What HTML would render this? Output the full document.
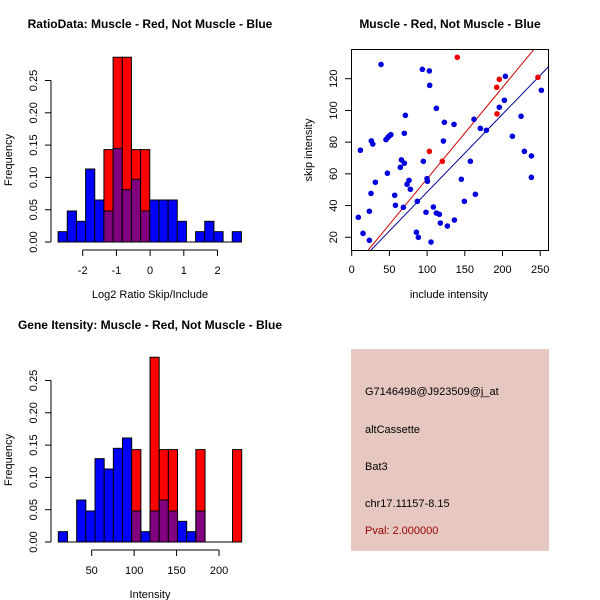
<!DOCTYPE html>
<html><head><meta charset="utf-8"><style>
body{margin:0;background:#fff;}
svg{display:block;font-family:"Liberation Sans",sans-serif;}
</style></head><body>
<svg id="c" width="600" height="600" viewBox="0 0 600 600"></svg>
<script>
// Ratio histogram data
const ratioBinStart = -2.73;
const ratioBinWidth = 0.272;
const ratioBlue = [0.016,0.048,0.032,0.113,0.065,0.048,0.145,0.081,0.097,0.048,0.065,0.065,0.065,0.032,0,0.016,0.032,0.016,0,0.016];
const ratioRed  = [0,0,0,0,0,0.143,0.286,0.286,0.143,0.143,0,0,0,0,0,0,0,0,0,0];
const ratioXTicks = [-2,-1,0,1,2];
const freqTicks = [0,0.05,0.10,0.15,0.20,0.25];
const freqTickLabels = ["0.00","0.05","0.10","0.15","0.20","0.25"];
// Intensity histogram data
const intBinStart = 10.7;
const intBinWidth = 10.8;
const intBlue = [0.016,0,0.065,0.048,0.129,0.113,0.145,0.161,0.048,0.016,0.048,0.065,0.048,0.032,0.016,0.048,0,0,0,0];
const intRed  = [0,0,0,0,0,0,0,0,0.143,0,0.286,0.143,0.143,0,0,0.143,0,0,0,0.143];
const intXTicks = [50,100,150,200];
// Scatter data
const blueX = [8.8,11.5,15,23.4,23.4,26,28,25.6,31.4,38.9,45.5,47.3,48,50,52,57,58,64.5,65.9,68.5,69.8,69.8,71.2,73.4,76,77.8,85.8,87.1,88.4,93.7,95,98.6,99.9,100.4,103,103.4,105.2,108.3,112.3,112.3,116.3,117.6,121.6,122.9,126.9,135.7,136.2,145.4,149.4,157.4,162.2,164,170.6,178.6,195.8,202.5,203.8,213.1,224.6,229,238.3,238.3,251.5];
const blueY = [32.6,74.9,22.5,36.4,18.1,80.8,78.8,47.7,54.7,129,81.6,60.4,83,84,84.7,46.5,40.2,64.1,68.8,38.9,85.6,66.7,96.9,53.4,55.9,50.3,23.2,42.7,20,125.9,67.9,35.8,57,55.3,124.9,115.8,17,39.1,101.3,35.3,34.5,29,80.7,92.5,27.1,91.2,30.9,56.6,42.7,67.9,94.4,47.1,88.7,87.5,102,106.4,121.5,83.7,96.3,74.2,71.3,57.8,112.7];
const redX = [140,103,120.2,192.3,195.8,192.7,247];
const redY = [133.5,74.2,67.9,114.6,119.6,97.8,120.9];
const redLine = [0.576,-0.7];   // slope, intercept
const blueLine = [0.491,-0.6];
const scatXTicks = [0,50,100,150,200,250];
const scatYTicks = [20,40,60,80,100,120];

const svg = document.getElementById('c');
const NS = 'http://www.w3.org/2000/svg';
function mk(tag, attrs, parent, text){
  const e = document.createElementNS(NS, tag);
  for (const k in attrs) e.setAttribute(k, attrs[k]);
  if (text !== undefined) e.textContent = text;
  (parent||svg).appendChild(e);
  return e;
}
function txt(x,y,s,size,opts,parent){
  const a = Object.assign({x:x,y:y,'font-size':size,'text-anchor':'middle',fill:'#000'}, opts||{});
  return mk('text',a,parent,s);
}

function hist(name, title, titleY, xlab, xlabY, top, binStart, binW, blue, red, xTicks, xScale){
  const g = mk('g',{});
  
  
  const y0 = top + 202, perUnit = 32.3/0.05;
  const Y = v => y0 - v*perUnit;
  const t = txt(150,titleY,title,12,{'font-weight':'bold'},g);
  
  
  // bars
  for (let i=0;i<blue.length;i++){
    const x0 = xScale(binStart + i*binW), x1 = xScale(binStart+(i+1)*binW);
    if (red[i]>0){
      const r = mk('rect',{x:x0,y:Y(red[i]),width:x1-x0,height:Y(0)-Y(red[i]),fill:'#ff0000',stroke:'#000','stroke-width':1},g);
      
      
    }
    if (blue[i]>0){
      const b = mk('rect',{x:x0,y:Y(blue[i]),width:x1-x0,height:Y(0)-Y(blue[i]),fill:red[i]>0?'#800080':'#0000ff',stroke:'#000','stroke-width':1},g);
      
      
    }
  }
  mk('line',{x1:xScale(binStart),x2:xScale(binStart+blue.length*binW),y1:y0,y2:y0,stroke:'#000'},g);
  // y axis
  const ya = mk('g',{},g);
  
  
  mk('line',{x1:51,x2:51,y1:Y(0),y2:Y(0.25),stroke:'#000'},ya);
  freqTicks.forEach((v,i)=>{
    mk('line',{x1:45,x2:51,y1:Y(v),y2:Y(v),stroke:'#000'},ya);
    txt(0,0,freqTickLabels[i],11,{transform:`translate(37,${Y(v)}) rotate(-90)`},ya);
  });
  const yl = txt(0,0,'Frequency',11,{transform:`translate(12,${(top+242)/2+top/2-top/2+ (top===40?120:120)}) rotate(-90)`},g);
  yl.setAttribute('transform',`translate(12,${top+120}) rotate(-90)`);
  
  
  // x axis
  const xa = mk('g',{},g);
  
  
  const ay = top+210;
  mk('line',{x1:xScale(xTicks[0]),x2:xScale(xTicks[xTicks.length-1]),y1:ay,y2:ay,stroke:'#000'},xa);
  xTicks.forEach(v=>{
    mk('line',{x1:xScale(v),x2:xScale(v),y1:ay,y2:ay+6,stroke:'#000'},xa);
    txt(xScale(v),ay+24,String(v),11,{},xa);
  });
  const xl = txt(150,xlabY,xlab,11,{},g);
  
  
}

hist('ratio-histogram','RatioData: Muscle - Red, Not Muscle - Blue',28,'Log2 Ratio Skip/Include',298,40,
  ratioBinStart,ratioBinWidth,ratioBlue,ratioRed,ratioXTicks, v=>82.7+(v+2)*33.7);
hist('intensity-histogram','Gene Itensity: Muscle - Red, Not Muscle - Blue',329,'Intensity',598,340,
  intBinStart,intBinWidth,intBlue,intRed,intXTicks, v=>91.7+(v-50)*0.849);

// Scatter
(function(){
  const g = mk('g',{});
  
  
  const X = v => 351.7 + v*0.754;
  const Y = v => 237.3 - (v-20)*1.586;
  const t = txt(450,28,'Muscle - Red, Not Muscle - Blue',12,{'font-weight':'bold'},g);
  
  
  const cp = mk('clipPath',{id:'sc'},g);
  mk('rect',{x:351,y:49,width:197,height:201},cp);
  const pg = mk('g',{'clip-path':'url(#sc)'},g);
  [[redLine,'#cc0000','red-fit-line'],[blueLine,'#000099','blue-fit-line']].forEach(([l,c,n])=>{
    const ln = mk('line',{x1:X(-5),y1:Y(l[0]*-5+l[1]+ (l===redLine?0:0)),x2:X(270),y2:Y(l[0]*270+l[1]),stroke:c,'stroke-width':1},pg);
    
    
  });
  blueX.forEach((x,i)=>{
    const c = mk('circle',{cx:X(x),cy:Y(blueY[i]),r:2.8,fill:'#0000dd'},pg);
    
    
  });
  redX.forEach((x,i)=>{
    const c = mk('circle',{cx:X(x),cy:Y(redY[i]),r:2.8,fill:'#ee0000'},pg);
    
    
  });
  mk('rect',{x:351.5,y:49.5,width:197,height:201,fill:'none',stroke:'#000'},g);
  const xa = mk('g',{},g);
  
  
  scatXTicks.forEach(v=>{
    mk('line',{x1:X(v),x2:X(v),y1:250,y2:256,stroke:'#000'},xa);
    txt(X(v),273,String(v),11,{},xa);
  });
  const ya = mk('g',{},g);
  
  
  scatYTicks.forEach(v=>{
    mk('line',{x1:345,x2:351,y1:Y(v),y2:Y(v),stroke:'#000'},ya);
    txt(0,0,String(v),11,{transform:`translate(337,${Y(v)}) rotate(-90)`},ya);
  });
  const xl = txt(449,298,'include intensity',11,{},g);
  
  
  const yl = txt(0,0,'skip intensity',11,{transform:'translate(312,150) rotate(-90)'},g);
  
  
})();
</script>
<div style="position:absolute;left:351px;top:349px;width:198px;height:202px;background:#e6c8c1;font-family:'Liberation Sans',sans-serif;font-size:11px;">
  <div style="position:absolute;left:14px;top:37px;">G7146498@J923509@j_at</div>
  <div style="position:absolute;left:14px;top:75px;">altCassette</div>
  <div style="position:absolute;left:14px;top:112px;">Bat3</div>
  <div style="position:absolute;left:14px;top:149px;">chr17.11157-8.15</div>
  <div style="position:absolute;left:14px;top:176px;color:#990000;">Pval: 2.000000</div>
</div>
</body></html>
